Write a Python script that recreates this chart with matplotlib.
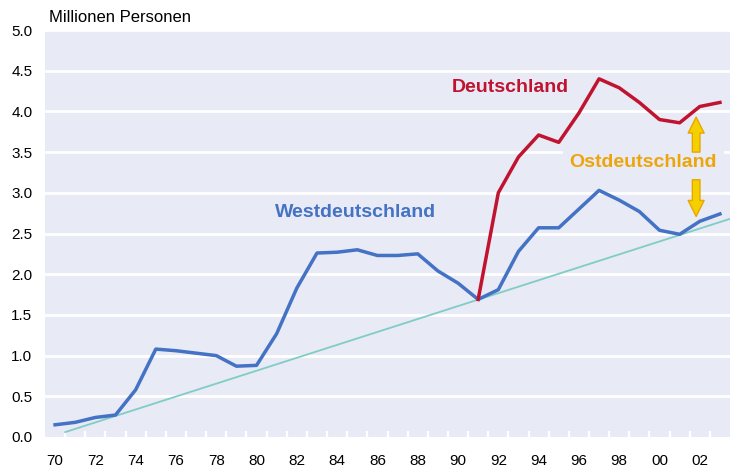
import numpy as np
import matplotlib.pyplot as plt

plt.rcParams['font.family'] = ['Liberation Sans', 'DejaVu Sans']

# Westdeutschland 1970-2003
west_years = list(range(70, 104))
west = [0.15, 0.18, 0.24, 0.27, 0.58, 1.08, 1.06, 1.03, 1.00, 0.87,
        0.88, 1.27, 1.83, 2.26, 2.27, 2.30, 2.23, 2.23, 2.25, 2.04,
        1.89, 1.69, 1.81, 2.28, 2.57, 2.57, 2.80, 3.03, 2.91, 2.77,
        2.54, 2.49, 2.65, 2.74]

# Deutschland ab 1991
de_years = list(range(91, 104))
de = [1.69, 3.00, 3.44, 3.71, 3.62, 3.98, 4.40, 4.29, 4.11, 3.90, 3.86, 4.06, 4.11]

# Trendlinie
trend_x = [70.5, 103.5]
trend_y = [0.06, 2.68]

ytick_vals = np.arange(0, 5.01, 0.5)
xtick_vals = list(range(70, 103, 2))
xtick_labels = ['%02d' % (y % 100) for y in xtick_vals]

bg = '#E8EAF5'
c_west = '#4472C4'
c_de = '#C0132F'
c_trend = '#80CCC6'
c_ost = '#EDA50C'

fig = plt.figure(figsize=(7.3, 4.68), dpi=100)
ax = fig.add_axes([45/730, 31/468, 685/730, 407/468])
ax.set_facecolor(bg)
for s in ax.spines.values():
    s.set_visible(False)

ax.set_xlim(69.5, 103.5)
ax.set_ylim(0, 5.0)

for v in ytick_vals[1:]:
    ax.axhline(v, color='white', lw=2.0, zorder=1)

ax.plot(trend_x, trend_y, color=c_trend, lw=1.3, zorder=2)
ax.plot(west_years, west, color=c_west, lw=2.5, zorder=3)
ax.plot(de_years, de, color=c_de, lw=2.5, zorder=4)

ax.set_yticks(ytick_vals)
ax.set_yticklabels(['%.1f' % v for v in ytick_vals], fontsize=11)
ax.tick_params(axis='y', length=0, pad=9)

ax.set_xticks(xtick_vals)
ax.set_xticklabels(xtick_labels, fontsize=11)
ax.set_xticks(np.arange(70.5, 103, 1.0), minor=True)
ax.tick_params(axis='x', which='major', length=0, pad=12)
ax.tick_params(axis='x', which='minor', direction='in', length=4, width=1.6, color='white')

fig.text(49/730, 1 - 17/468, 'Millionen Personen', fontsize=12, va='center', ha='left')

ax.text(92.6, 4.29, 'Deutschland', color=c_de, fontsize=14, fontweight='bold',
        ha='center', va='center', zorder=5)
ax.text(84.9, 2.76, 'Westdeutschland', color=c_west, fontsize=14, fontweight='bold',
        ha='center', va='center', zorder=5)
ax.text(99.2, 3.37, 'Ostdeutschland', color=c_ost, fontsize=14, fontweight='bold',
        ha='center', va='center', zorder=5,
        bbox=dict(boxstyle='square,pad=0.35', fc=bg, ec='none'))

arrow_style = 'simple,head_length=1.15,head_width=1.15,tail_width=0.55'
for start, end in [((101.82, 3.50), (101.82, 3.93)), ((101.82, 3.16), (101.82, 2.71))]:
    ax.annotate('', xy=end, xytext=start, zorder=6,
                arrowprops=dict(arrowstyle=arrow_style, mutation_scale=10,
                                fc='#F5D000', ec='#E8A600', lw=1.0,
                                shrinkA=0, shrinkB=0))

fig.savefig('out.png', dpi=100)
